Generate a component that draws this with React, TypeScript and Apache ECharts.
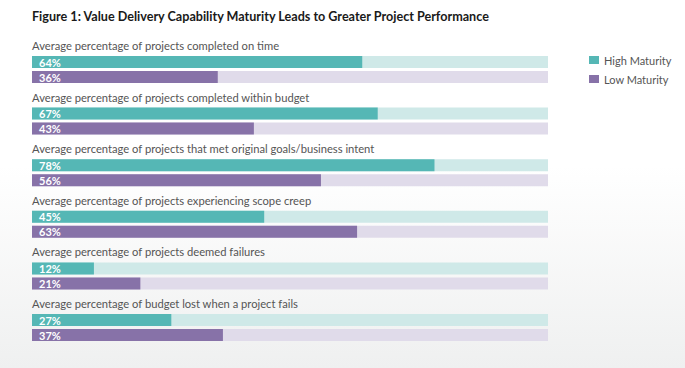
import React, { useEffect, useRef } from "react";
import * as echarts from "echarts";

const titleText = "Figure 1: Value Delivery Capability Maturity Leads to Greater Project Performance";
const categories = [
  "Average percentage of projects completed on time",
  "Average percentage of projects completed within budget",
  "Average percentage of projects that met original goals/business intent",
  "Average percentage of projects experiencing scope creep",
  "Average percentage of projects deemed failures",
  "Average percentage of budget lost when a project fails",
];
const highMaturity = [64, 67, 78, 45, 12, 27];
const lowMaturity = [36, 43, 56, 63, 21, 37];
const seriesNames = ["High Maturity", "Low Maturity"];

const FONT = "Lato, 'Open Sans', sans-serif";
const TEAL = "#55b7b5";
const TEAL_BG = "#cfe9e8";
const PURPLE = "#8772a8";
const PURPLE_BG = "#e0dbea";

export default function App() {
  const ref = useRef<HTMLDivElement>(null);
  useEffect(() => {
    if (!ref.current) return;
    const chart = echarts.init(ref.current, null, { renderer: "svg" });
    const GRID_TOP = 56;
    const STEP = 51.6;
    const grids: any[] = [];
    const xAxes: any[] = [];
    const yAxes: any[] = [];
    const series: any[] = [];
    const graphics: any[] = [
      {
        type: "text",
        left: 32,
        top: 10,
        style: { text: titleText, fill: "#1a1a1a", font: `bold 12.6px ${FONT}` },
      },
    ];
    categories.forEach((cat, i) => {
      const top = GRID_TOP + i * STEP;
      grids.push({ left: 32, width: 516, top, height: 27 });
      xAxes.push({ type: "value", min: 0, max: 100, show: false, gridIndex: i });
      yAxes.push({ type: "category", data: [cat], show: false, inverse: true, gridIndex: i });
      graphics.push({
        type: "text",
        left: 32,
        top: top - 16,
        style: { text: cat, fill: "#555", font: `11.2px ${FONT}` },
      });
      const mk = (name: string, val: number, color: string, bg: string) => ({
        type: "bar",
        name,
        xAxisIndex: i,
        yAxisIndex: i,
        data: [val],
        barWidth: 12,
        barGap: "25%",
        itemStyle: { color },
        showBackground: true,
        backgroundStyle: { color: bg },
        label: {
          show: true,
          position: "insideLeft",
          distance: 7,
          formatter: "{c}%",
          color: "#fff",
          fontFamily: FONT,
          fontSize: 11,
          fontWeight: "bold",
        },
      });
      series.push(mk(seriesNames[0], highMaturity[i], TEAL, TEAL_BG));
      series.push(mk(seriesNames[1], lowMaturity[i], PURPLE, PURPLE_BG));
    });
    chart.setOption({
      animation: false,
      backgroundColor: "transparent",
      legend: {
        data: seriesNames,
        orient: "vertical",
        left: 589,
        top: 53,
        padding: 0,
        itemWidth: 10,
        itemHeight: 8,
        itemGap: 5,
        icon: "rect",
        selectedMode: false,
        textStyle: { fontFamily: FONT, fontSize: 11, color: "#555", lineHeight: 14 },
      },
      grid: grids,
      xAxis: xAxes,
      yAxis: yAxes,
      series,
      graphic: graphics,
    });
    return () => chart.dispose();
  }, []);
  return (
    <div
      style={{
        position: "fixed",
        left: 0,
        top: 0,
        width: 685,
        height: 368,
        background: "linear-gradient(to bottom, #ffffff 0%, #ffffff 45%, #eff0f0 100%)",
      }}
    >
      <div ref={ref} style={{ width: 685, height: 368 }} />
    </div>
  );
}
